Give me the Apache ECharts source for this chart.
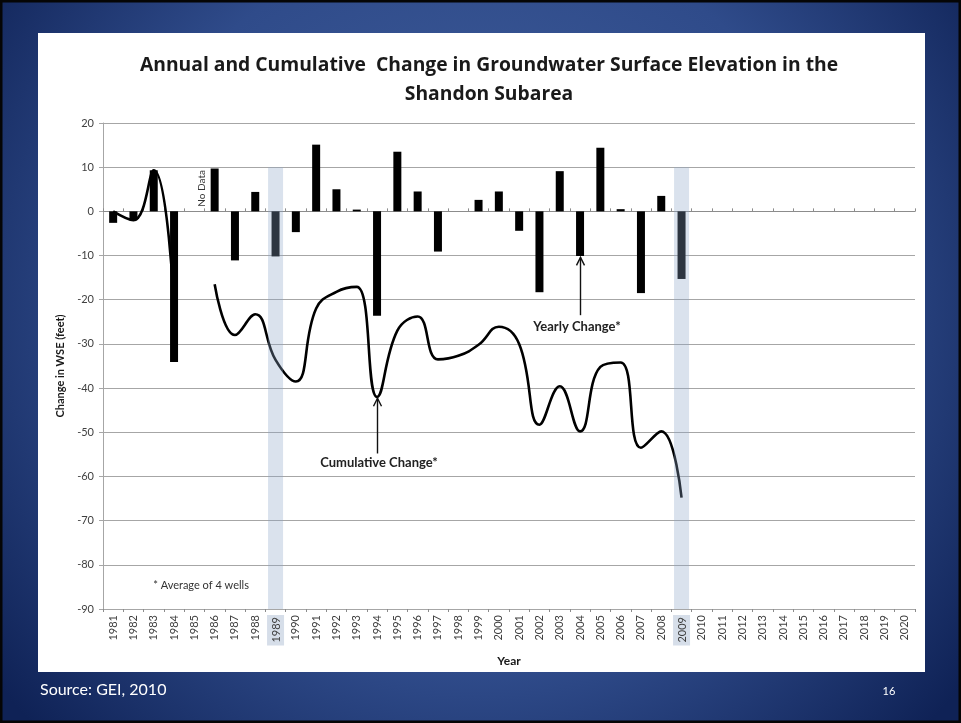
<!DOCTYPE html>
<html><head><meta charset="utf-8">
<script src="https://cdn.jsdelivr.net/npm/echarts@6/dist/echarts.min.js"></script>
<style>html,body{margin:0;padding:0;background:#000;}#c{width:961px;height:723px;}</style>
</head><body><div id="c"></div>
<script>
// ---- data ----
const years = ['1981','1982','1983','1984','1985','1986','1987','1988','1989','1990',
  '1991','1992','1993','1994','1995','1996','1997','1998','1999','2000',
  '2001','2002','2003','2004','2005','2006','2007','2008','2009','2010',
  '2011','2012','2013','2014','2015','2016','2017','2018','2019','2020'];
const yearlyChange = [-2.6, -2.0, 9.3, -34.1, null, 9.7, -11.1, 4.4, -10.2, -4.7,
  15.1, 5.0, 0.4, -23.6, 13.5, 4.5, -9.1, null, 2.6, 4.5,
  -4.4, -18.3, 9.1, -10.1, 14.4, 0.5, -18.5, 3.5, -15.3, null,
  null, null, null, null, null, null, null, null, null, null];
const cumulativeChange = [0, -2.0, 9.3, -21.0, null, -16.5, -28.0, -23.3, -33.6, -38.5,
  -22.0, -18.2, -17.1, -42.0, -27.0, -23.8, -33.5, -32.7, -30.2, -26.1,
  -30.0, -48.3, -39.6, -49.8, -35.2, -34.2, -53.5, -49.8, -64.8, null,
  null, null, null, null, null, null, null, null, null, null];
const highlightYears = ['1989', '2009'];
const bandTop = 10, bandBottom = -90;
const yMin = -90, yMax = 20, yStep = 10;

const FONT = 'Lato';
const TFONT = 'Open Sans';
const bandTopData = years.map(y => highlightYears.includes(y) ? bandTop : null);
const bandBottomData = years.map(y => highlightYears.includes(y) ? bandBottom : null);

const chart = echarts.init(document.getElementById('c'), null, {renderer: 'canvas'});
const option = {
  animation: false,
  backgroundColor: {
    type: 'radial', x: 0.5, y: 0.42, r: 0.85,
    colorStops: [{offset: 0, color: '#44629f'}, {offset: 0.6, color: '#2f4b8a'}, {offset: 1, color: '#0f2256'}]
  },
  textStyle: {fontFamily: FONT},
  title: {
    text: 'Annual and Cumulative  Change in Groundwater Surface Elevation in the\nShandon Subarea',
    left: 484, top: 46, textAlign: 'center',
    textStyle: {fontFamily: TFONT, fontWeight: 'bold', fontSize: 19.3, lineHeight: 29, color: '#1a1a1a'}
  },
  grid: {left: 103, right: 46, top: 123, bottom: 114, containLabel: false},
  xAxis: [
    {
      type: 'category', data: years, position: 'bottom',
      axisLine: {onZero: false, lineStyle: {color: '#a6a6a6', width: 1}},
      axisTick: {show: false},
      axisLabel: {
        interval: 0, rotate: 90, color: '#404040', fontSize: 11, margin: 6, fontFamily: FONT,
        formatter: v => highlightYears.includes(v) ? '{h|' + v + '}' : v,
        rich: {h: {backgroundColor: '#d6dee9', padding: [4, 2, 2, 3], lineHeight: 11, color: '#404040', fontSize: 11, fontFamily: FONT}}
      },
      name: 'Year', nameLocation: 'middle', nameGap: 46,
      nameTextStyle: {fontWeight: 'bold', fontSize: 12, color: '#1a1a1a', fontFamily: FONT}
    },
    {
      type: 'category', data: years, position: 'top',
      axisLine: {onZero: true, lineStyle: {color: '#8c8c8c', width: 1}},
      axisTick: {show: true, interval: 0, length: 3, lineStyle: {color: '#8c8c8c'}},
      axisLabel: {show: false}
    },
    {
      type: 'category', data: years, position: 'bottom',
      axisLine: {onZero: true, show: false},
      axisTick: {show: true, interval: 0, length: 3, lineStyle: {color: '#8c8c8c'}},
      axisLabel: {show: false}
    }
  ],
  yAxis: {
    type: 'value', min: yMin, max: yMax, interval: yStep,
    axisLine: {show: true, lineStyle: {color: '#a6a6a6'}},
    axisTick: {show: true, length: 4, lineStyle: {color: '#a6a6a6'}},
    splitLine: {lineStyle: {color: '#a6a6a6', width: 1}},
    axisLabel: {color: '#404040', fontSize: 11, margin: 9, fontFamily: FONT},
    name: 'Change in WSE (feet)', nameLocation: 'middle', nameGap: 36,
    nameTextStyle: {fontWeight: 'bold', fontSize: 11, color: '#1a1a1a', fontFamily: FONT}
  },
  series: [
    {
      name: 'Yearly Change', type: 'bar', xAxisIndex: 0, data: yearlyChange,
      barWidth: 8, itemStyle: {color: '#000'}, z: 2
    },
    {
      name: 'Cumulative Change', type: 'line', xAxisIndex: 0, data: cumulativeChange,
      smooth: 0.45, showSymbol: false, symbol: 'none', connectNulls: false,
      lineStyle: {color: '#000', width: 2.6}, z: 3
    },
    {
      name: 'bandTop', type: 'bar', xAxisIndex: 1, stack: 'band', data: bandTopData,
      barWidth: 15, itemStyle: {color: 'rgba(140,165,200,0.32)'}, z: 5, silent: true
    },
    {
      name: 'bandBottom', type: 'bar', xAxisIndex: 1, stack: 'band', data: bandBottomData,
      barWidth: 15, itemStyle: {color: 'rgba(140,165,200,0.32)'}, z: 5, silent: true
    }
  ]
};
chart.setOption(option);

function px(i, v) { return chart.convertToPixel({xAxisIndex: 0, yAxisIndex: 0}, [i, v]); }
function arrow(i, vTip, vTail) {
  const t = px(i, vTip), b = px(i, vTail);
  const x = Math.round(t[0]) + 0.5;
  return [
    {type: 'line', shape: {x1: x, y1: b[1], x2: x, y2: t[1]}, style: {stroke: '#111', lineWidth: 1.4}, z: 20},
    {type: 'polyline', shape: {points: [[x - 4, t[1] + 8], [x, t[1]], [x + 4, t[1] + 8]]}, style: {stroke: '#111', lineWidth: 1.4, fill: null}, z: 20}
  ];
}
const iYear = y => years.indexOf(y);
const yc = px(iYear('2004'), -26.1);
const cc = px(iYear('1994'), -57.0);
const nd = px(iYear('1985'), 5.2);
const avg = px(iYear('1981'), -84.7);
const gridLeft = px(0, 0)[0];

chart.setOption({
  graphic: [
    {type: 'rect', shape: {x: 38, y: 33, width: 887, height: 639}, style: {fill: '#fff'}, z: -10, silent: true},
    {type: 'rect', shape: {x: 1, y: 1, width: 959, height: 721}, style: {fill: null, stroke: '#050505', lineWidth: 3}, z: 50, silent: true},
    ...arrow(iYear('2004'), -10.4, -23.5),
    ...arrow(iYear('1994'), -42.3, -54.8),
    {type: 'text', x: yc[0] - 3, y: yc[1], style: {text: 'Yearly Change*', fontFamily: FONT, fontWeight: 'bold', fontSize: 13, fill: '#222', align: 'center', verticalAlign: 'middle'}, z: 20},
    {type: 'text', x: cc[0] + 2, y: cc[1], style: {text: 'Cumulative Change*', fontFamily: FONT, fontWeight: 'bold', fontSize: 13, fill: '#222', align: 'center', verticalAlign: 'middle'}, z: 20},
    {type: 'text', x: nd[0] + 7, y: nd[1], rotation: Math.PI / 2, style: {text: 'No Data', fontFamily: FONT, fontSize: 10, fill: '#333', align: 'center', verticalAlign: 'middle'}, z: 20},
    {type: 'text', x: gridLeft + 40, y: avg[1], style: {text: '* Average of 4 wells', fontFamily: FONT, fontSize: 11, fill: '#333', align: 'left', verticalAlign: 'middle'}, z: 20},
    {type: 'text', x: 40, y: 690, style: {text: 'Source: GEI, 2010', fontFamily: FONT, fontSize: 16, fill: '#fff', align: 'left', verticalAlign: 'middle'}, z: 20},
    {type: 'text', x: 889, y: 691, style: {text: '16', fontFamily: FONT, fontSize: 11, fill: '#fff', align: 'center', verticalAlign: 'middle'}, z: 20}
  ]
});
</script>
</body></html>
